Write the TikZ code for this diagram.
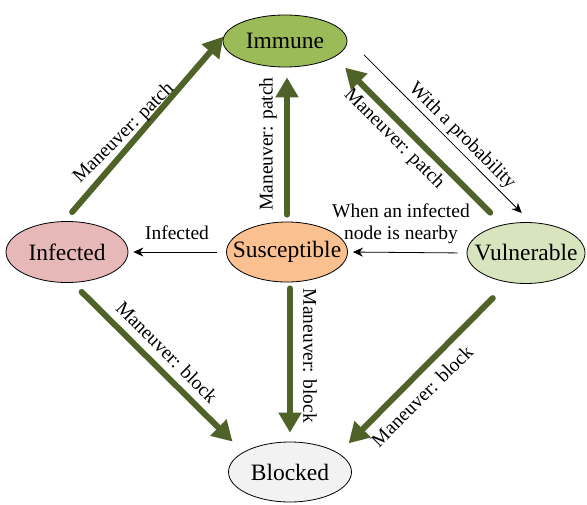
\documentclass[tikz,border=0pt]{standalone}
\usepackage{fontspec}
\setmainfont{Liberation Serif}
\usetikzlibrary{arrows.meta,shapes.geometric}
\definecolor{arrowgreen}{HTML}{4F6228}
\definecolor{immunec}{HTML}{9BBB59}
\definecolor{infectedc}{HTML}{E6B9B8}
\definecolor{suscc}{HTML}{FAC090}
\definecolor{vulnc}{HTML}{D7E4BD}
\definecolor{blockc}{HTML}{F2F2F2}
\begin{document}
\begin{tikzpicture}[x=1pt,y=-1pt,
  state/.style={ellipse,draw=black,line width=0.8pt,inner sep=0pt,font=\fontsize{23.5}{28}\selectfont},
  lbl/.style={font=\fontsize{19.5}{22}\selectfont,inner sep=0pt},
  bigarrow/.style={draw=arrowgreen,line width=6pt,line cap=round,-{Triangle[length=20pt,width=22pt]}},
  thinarrow/.style={draw=black,line width=0.8pt,-{Stealth[length=10pt,width=9pt]}}]
\useasboundingbox (0,0) rectangle (587,504);
% states
\node[state,fill=immunec,minimum width=124pt,minimum height=52pt] (imm) at (285,41) {\makebox[0pt]{Immune}};
\node[state,fill=infectedc,minimum width=122pt,minimum height=61pt] (inf) at (67,252) {\makebox[0pt]{Infected}};
\node[state,fill=suscc,minimum width=121pt,minimum height=60pt] (sus) at (287,252) {\makebox[0pt]{Susceptible}};
\node[state,fill=vulnc,minimum width=118pt,minimum height=61pt] (vul) at (526,253) {\makebox[0pt]{Vulnerable}};
\node[state,fill=blockc,minimum width=123pt,minimum height=60pt] (blk) at (290,472) {\makebox[0pt]{Blocked}};
% thick arrows
\draw[bigarrow,shorten <=12pt,shorten >=12pt] (inf.95) -- (imm.166);
\draw[bigarrow,shorten <=7pt,shorten >=10pt] (sus.north) -- (sus.north |- imm.south);
\draw[bigarrow,shorten <=17pt,shorten >=15pt] (vul.130.6) -- (imm.-18);
\draw[bigarrow,shorten <=13pt,shorten >=15pt] (inf.-80) -- (blk.157.9);
\draw[bigarrow,shorten <=6pt,shorten >=9pt] (blk.north |- sus.south) -- (blk.north);
\draw[bigarrow,shorten <=22pt,shorten >=14pt] (vul.239.5) -- (blk.21.5);
% thin arrows
\draw[thinarrow,shorten <=24pt,shorten >=13pt] (imm.3) -- (vul.81);
\draw[thinarrow,shorten <=9pt,shorten >=5pt] (vul.west) -- (sus.east);
\draw[thinarrow,shorten <=9pt,shorten >=5pt] (sus.west) -- (inf.east);
% labels
\node[lbl,rotate=45] (l1) at (124,133) {Maneuver: patch};
\node[lbl,rotate=90] (l2) at (268,144) {Maneuver: patch};
\node[lbl,rotate=-45] (l3) at (394,139) {Maneuver: patch};
\node[lbl,rotate=-45] (l4) at (462,136) {With a probability};
\node[lbl,align=center] (l5) at (401,224) {When an infected\\node is nearby};
\node[lbl] (l6) at (177,233) {Infected};
\node[lbl,rotate=-45] (l7) at (167,352) {Maneuver: block};
\node[lbl,rotate=-90] (l8) at (310,356) {Maneuver: block};
\node[lbl,rotate=45] (l9) at (422,396) {Maneuver: block};
\end{tikzpicture}
\end{document}
